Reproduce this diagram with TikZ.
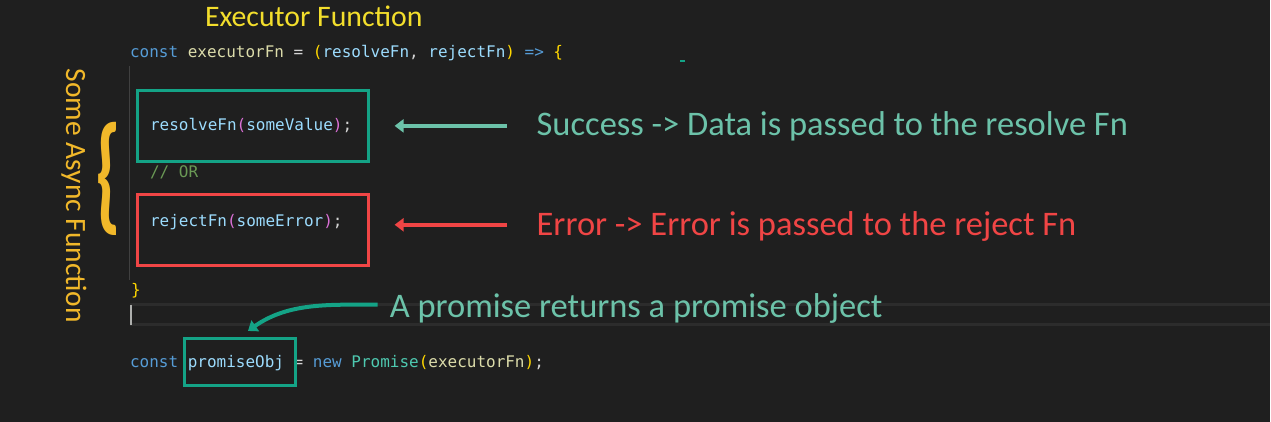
\documentclass[tikz,border=0pt]{standalone}
\usepackage{fontspec}
\setmainfont{Carlito}
\newfontfamily\codefont{DejaVu Sans Mono}
\usetikzlibrary{positioning,decorations.pathreplacing,arrows.meta}

\definecolor{editorbg}{HTML}{1F1F1F}
\definecolor{guidegray}{HTML}{404040}
\definecolor{linegray}{HTML}{2C2C2C}
\definecolor{cursorgray}{HTML}{AEAFAD}
\definecolor{kwblue}{HTML}{569CD6}
\definecolor{fnyellow}{HTML}{DCDCAA}
\definecolor{varblue}{HTML}{9CDCFE}
\definecolor{brkgold}{HTML}{FFD700}
\definecolor{parpink}{HTML}{DA70D6}
\definecolor{clsteal}{HTML}{4EC9B0}
\definecolor{comgreen}{HTML}{6A9955}
\definecolor{optext}{HTML}{D4D4D4}
\definecolor{boxteal}{HTML}{14A386}
\definecolor{noteteal}{HTML}{6CC2A9}
\definecolor{boxred}{HTML}{F04545}
\definecolor{titleyellow}{HTML}{F3DE2C}
\definecolor{bracegold}{HTML}{F1B82A}

\newcommand{\cKw}[1]{\textcolor{kwblue}{#1}}
\newcommand{\cFn}[1]{\textcolor{fnyellow}{#1}}
\newcommand{\cVar}[1]{\textcolor{varblue}{#1}}
\newcommand{\cBrk}[1]{\textcolor{brkgold}{#1}}
\newcommand{\cPar}[1]{\textcolor{parpink}{#1}}

\tikzset{
  code/.style={anchor=base west,inner sep=0pt,text=optext,font=\codefont\fontsize{16}{18}\selectfont},
  note/.style={anchor=base west,inner sep=0pt,font=\fontsize{34.5}{40}\selectfont},
  codebox/.style={draw,line width=3pt,minimum width=231pt,minimum height=71pt,anchor=north west,inner sep=0pt},
  pointer/.style={line width=4pt,-{Triangle[length=9pt,width=13pt]}},
}

\begin{document}
\begin{tikzpicture}[x=1pt,y=1pt]
  \fill[editorbg] (0,0) rectangle (1271,-422);
  % guides of the editor
  \draw[guidegray,line width=1pt] (130,-66) -- (130,-280);
  \draw[linegray,line width=2.5pt] (130,-305) -- (1271,-305);
  \draw[linegray,line width=2.5pt] (130,-325) -- (1271,-325);
  \draw[cursorgray,line width=2pt] (131,-305) -- (131,-325);
  \draw[boxteal,line width=2pt] (681,-61) -- (686,-61);

  % title and code
  \node[note,text=titleyellow,font=\fontsize{29.8}{34}\selectfont] (title) at (205,-27) {Executor Function};
  \node[code] (head) at (130,-58) {\cKw{const} \cFn{executorFn} = \cBrk{(}\cVar{resolveFn}, \cVar{rejectFn}\cBrk{)} \cKw{=>} \cBrk{\{}};
  \node[code] (resolvecall) at (150,-131) {\cVar{resolveFn}\cPar{(}\cVar{someValue}\cPar{)};};
  \node[code,text=comgreen] (orline) at (150,-178) {// OR};
  \node[code] (rejectcall) at (150,-227) {\cVar{rejectFn}\cPar{(}\cVar{someError}\cPar{)};};
  \node[code] (closing) at (131,-296) {\cBrk{\}}};
  \node[code] (promiseline) at (130,-368) {\cKw{const} \cVar{promiseObj} = \cKw{new} \textcolor{clsteal}{Promise}\cBrk{(}\cFn{executorFn}\cBrk{)};};

  % boxes
  \node[codebox,boxteal] (resolvebox) at (136,-89) {};
  \node[codebox,boxred] (rejectbox) at (136,-193) {};
  \node[codebox,boxteal,minimum width=111pt,minimum height=47pt] (promisebox) at (183,-337) {};

  % notes
  \node[note,text=noteteal] (success) at (537,-136) {Success -> Data is passed to the resolve Fn};
  \node[note,text=boxred] (failure) at (537,-236) {Error -> Error is passed to the reject Fn};
  \node[note,text=noteteal] (returns) at (390,-318) {A promise returns a promise object};

  \draw[pointer,noteteal,shorten <=30pt,shorten >=25pt] (success.west |- resolvebox.east) -- (resolvebox.east);
  \draw[pointer,boxred,shorten <=30pt,shorten >=25pt] (failure.west |- 0,-225) -- (rejectbox.east |- 0,-225);
  \draw[pointer,boxteal,shorten <=12pt,shorten >=10pt] (returns.west |- 0,-305) to[out=180,in=35] (promisebox.north);

  % async brace
  \node[text=bracegold,inner sep=0pt,font=\bfseries\fontsize{68}{68}\selectfont] (asyncbrace) at (108,-179.5) {\scalebox{1.1}[1.9]{\{}};
  \node[note,text=bracegold,rotate=-90,anchor=center,font=\fontsize{29.5}{34}\selectfont] (asynclabel) at (74,-196) {Some Async Function};
\end{tikzpicture}
\end{document}
